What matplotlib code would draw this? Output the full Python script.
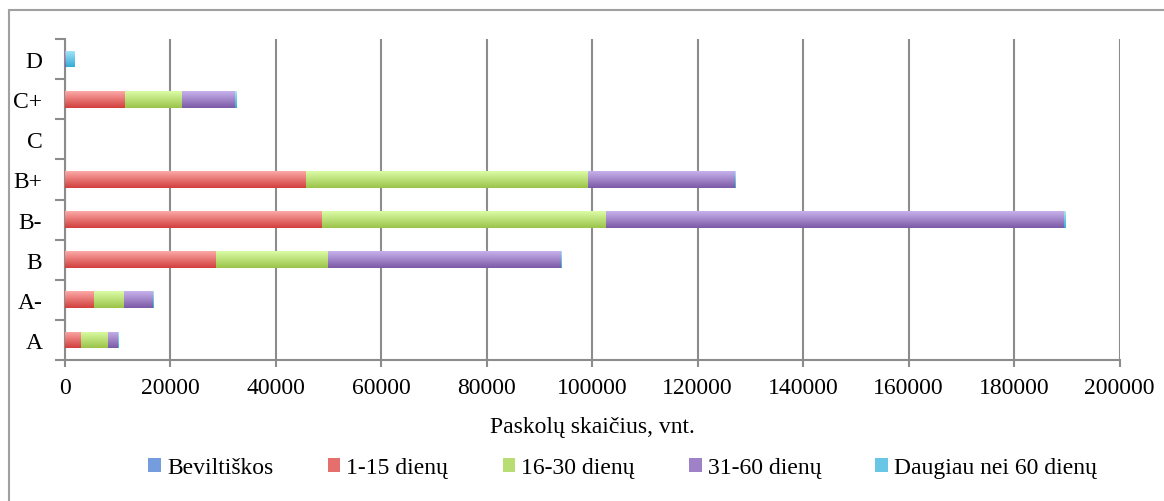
import numpy as np
import matplotlib.pyplot as plt
from matplotlib.colors import LinearSegmentedColormap
from matplotlib.patches import Rectangle

plt.rcParams['font.family'] = ['Liberation Serif', 'DejaVu Serif']

grades = ["A", "A-", "B", "B-", "B+", "C", "C+", "D"]
series = ["Beviltiškos", "1-15 dienų", "16-30 dienų", "31-60 dienų", "Daugiau nei 60 dienų"]
hopeless = [0, 0, 0, 0, 0, 0, 0, 0]
d1_15 = [3100, 5600, 28700, 48800, 45800, 0, 11500, 0]
d16_30 = [5100, 5700, 21200, 53800, 53400, 0, 10800, 0]
d31_60 = [1900, 5500, 44300, 86800, 27900, 0, 10000, 200]
over_60 = [150, 150, 150, 300, 100, 0, 200, 1600]

# light (top) and dark (bottom) shade of each series
shades = [("#a9c4f5", "#4a7bc9"), ("#fca9a7", "#d13f3d"), ("#dbfca6", "#9bc44a"),
          ("#c7b1ec", "#7c5aa6"), ("#a9e6f8", "#34acd6")]

grey = "#8c8c8c"
fs = 17

fig = plt.figure(figsize=(11.64, 5.02), dpi=100)
ax = fig.add_axes([64.5 / 1164, 1 - 361 / 502, (1119.5 - 64.5) / 1164, 321 / 502])

y = np.arange(len(grades))
left = np.zeros(len(grades))
grad = np.linspace(0, 1, 64).reshape(-1, 1)
handles = []
for vals, name, (light, dark) in zip([hopeless, d1_15, d16_30, d31_60, over_60], series, shades):
    vals = np.array(vals, dtype=float)
    bars = ax.barh(y, vals, left=left, height=0.42, color=dark, edgecolor="none", zorder=3)
    cmap = LinearSegmentedColormap.from_list(name, [dark, light])
    for b, v in zip(bars, vals):
        if v <= 0:
            continue
        x0, y0 = b.get_x(), b.get_y()
        im = ax.imshow(grad, extent=[x0, x0 + b.get_width(), y0, y0 + b.get_height()],
                       origin="lower", cmap=cmap, aspect="auto", zorder=4, interpolation="bilinear")
        im.set_clip_path(b)
    left += vals
    handles.append(Rectangle((0, 0), 1, 1, facecolor=cmap(0.45), edgecolor="none"))

ax.set_xlim(0, 200000)
ax.set_ylim(-0.5, len(grades) - 0.5)
ax.set_xticks(np.arange(0, 200001, 20000))
ax.tick_params(axis="x", length=5, width=1.5, color=grey, labelsize=fs, pad=7)

ax.set_yticks(np.arange(-0.5, len(grades), 1))
ax.set_yticklabels([])
ax.tick_params(axis="y", which="major", length=7, width=1.5, color=grey)
ax.set_yticks(y, minor=True)
ax.set_yticklabels(grades, minor=True)
ax.tick_params(axis="y", which="minor", length=0, labelsize=fs, pad=16)

ax.grid(axis="x", color=grey, lw=1.5, zorder=0)
ax.set_axisbelow(True)
for side in ["top", "right"]:
    ax.spines[side].set_visible(False)
for side in ["left", "bottom"]:
    ax.spines[side].set_color(grey)
    ax.spines[side].set_linewidth(1.5)

ax.set_xlabel("Paskolų skaičius, vnt.", fontsize=fs, labelpad=13)

fig.legend(handles, series, loc="center", bbox_to_anchor=(0.535, 1 - 469 / 502), ncol=5,
           frameon=False, fontsize=fs, handlelength=0.54, handleheight=0.54,
           handletextpad=0.25, columnspacing=2.3)

fig.patches.append(Rectangle((9 / 1164, -0.1), 1.2, 1 - 11 / 502 + 0.1, transform=fig.transFigure,
                             fill=False, edgecolor="#a0a0a0", lw=1.5))

fig.savefig("out.png", dpi=100)
